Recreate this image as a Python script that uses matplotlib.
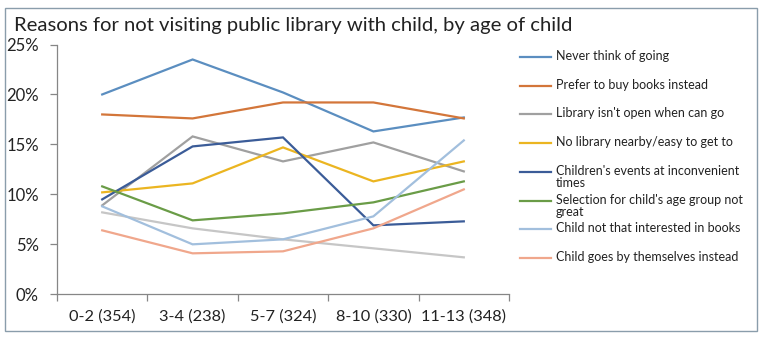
import textwrap
import numpy as np
import matplotlib.pyplot as plt
from matplotlib.lines import Line2D
from matplotlib.patches import Rectangle

# data
ages = ["0-2 (354)", "3-4 (238)", "5-7 (324)", "8-10 (330)", "11-13 (348)"]

never_think = [20.0, 23.5, 20.2, 16.3, 17.7]
prefer_buy = [18.0, 17.6, 19.2, 19.2, 17.6]
not_open = [8.9, 15.8, 13.3, 15.2, 12.3]
no_library = [10.2, 11.1, 14.7, 11.3, 13.3]
events_times = [9.5, 14.8, 15.7, 6.9, 7.3]
selection = [10.8, 7.4, 8.1, 9.2, 11.3]
not_interested = [8.8, 5.0, 5.5, 7.8, 15.4]
goes_alone = [6.4, 4.1, 4.3, 6.6, 10.5]
other = [8.2, 6.6, 5.5, 4.6, 3.7]  # 9th series, legend entry cut off in the original

series = [
    ("Never think of going", never_think, "#5b8ec0"),
    ("Prefer to buy books instead", prefer_buy, "#d3763a"),
    ("Library isn't open when can go", not_open, "#a0a0a0"),
    ("No library nearby/easy to get to", no_library, "#ebb521"),
    ("Children's events at inconvenient times", events_times, "#3b5c98"),
    ("Selection for child's age group not great", selection, "#6a9c47"),
    ("Child not that interested in books", not_interested, "#a2bfdd"),
    ("Child goes by themselves instead", goes_alone, "#f0a78c"),
]
other_color = "#c6c6c6"

plt.rcParams['font.family'] = ['Lato', 'DejaVu Sans']

W, H = 766, 342
fig = plt.figure(figsize=(W / 100, H / 100), dpi=100)

# outer chart border
fig.add_artist(Rectangle((5 / W, 1 - 331 / H), 752 / W, 323 / H, transform=fig.transFigure,
                         fill=False, edgecolor="#8a9dab", linewidth=1.0))

fig.text(14 / W, 1 - 31 / H, "Reasons for not visiting public library with child, by age of child",
         fontsize=14.6, va="baseline", ha="left", color="#222222")

ax = fig.add_axes([57 / W, 1 - 294.3 / H, 452 / W, 249.8 / H])
x = np.arange(len(ages))

ax.plot(x, other, color=other_color, lw=1.6, solid_joinstyle="miter")
for name, vals, col in series:
    ax.plot(x, vals, color=col, lw=1.6, label=name, solid_joinstyle="miter")

ax.set_xlim(-0.5, len(ages) - 0.5)
ax.set_ylim(0, 25)
ax.set_yticks(np.arange(0, 26, 5))
ax.set_yticklabels([f"{v}%" for v in range(0, 26, 5)])
ax.set_xticks(np.arange(-0.5, len(ages), 1.0))
ax.set_xticklabels([])
ax.set_xticks(x, minor=True)
ax.set_xticklabels(ages, minor=True)

for s in ["top", "right"]:
    ax.spines[s].set_visible(False)
for s in ["left", "bottom"]:
    ax.spines[s].set_color("#868686")
    ax.spines[s].set_linewidth(0.9)

ax.tick_params(axis="y", length=5, width=0.9, color="#868686", pad=8, labelsize=12, labelcolor="#222222")
ax.tick_params(axis="x", which="major", length=5, width=0.9, color="#868686")
ax.tick_params(axis="x", which="minor", length=0, pad=11, labelsize=11.8, labelcolor="#222222")

# legend drawn by hand so wrapped labels hang below the line sample, like Excel
y0, step = 57, 28.7
for i, (name, vals, col) in enumerate(series):
    yy = 1 - (y0 + i * step) / H
    fig.add_artist(Line2D([520 / W, 551 / W], [yy, yy], transform=fig.transFigure, color=col, lw=1.6))
    fig.text(556 / W, yy + 7 / H, textwrap.fill(name, 35), fontsize=9, va="top", ha="left",
             color="#222222", linespacing=1.05, transform=fig.transFigure)

fig.savefig("out.png", dpi=100)
